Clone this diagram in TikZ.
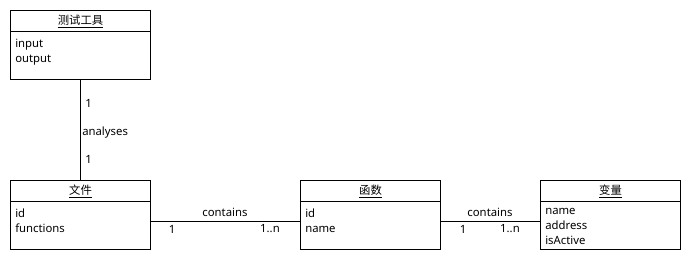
\documentclass[tikz,border=0pt]{standalone}
\usepackage{fontspec}
\setmainfont{Noto Sans}
\newfontfamily\cjk{Noto Sans CJK SC}
\usetikzlibrary{calc}
\begin{document}
\begin{tikzpicture}[x=0.75pt,y=-0.75pt,
  box/.style={draw,line width=0.75pt,minimum width=105pt,minimum height=51.75pt,inner sep=0pt,anchor=north west},
  sep/.style={line width=0.75pt},
  title/.style={font=\cjk\fontsize{8.5}{10}\selectfont,inner sep=0pt},
  attrs/.style={font=\fontsize{8.5}{11.25}\selectfont,align=left,anchor=north west,inner sep=0pt},
  lbl/.style={font=\fontsize{8.5}{10}\selectfont,inner sep=0pt},
  link/.style={line width=0.75pt}]
\useasboundingbox (0,0) rectangle (690,260);

% class boxes
\node[box] (tool) at (10,10) {};
\node[box] (file) at (10,180) {};
\node[box] (func) at (300,180) {};
\node[box] (var)  at (540,180) {};

% header separators
\foreach \c in {tool,file,func,var}
  \draw[sep] ($(\c.north west)+(0,22)$) -- ($(\c.north east)+(0,22)$);

% titles
\node[title] (tool-t) at ($(tool.north)+(0,11.5)$) {\underline{测试工具}};
\node[title] (file-t) at ($(file.north)+(0,11.5)$) {\underline{文件}};
\node[title] (func-t) at ($(func.north)+(0,11.5)$) {\underline{函数}};
\node[title] (var-t)  at ($(var.north)+(0,11.5)$)  {\underline{变量}};

% attributes
\node[attrs] (tool-a) at ($(tool.north west)+(5,28.5)$) {input\\output};
\node[attrs] (file-a) at ($(file.north west)+(5,28.5)$) {id\\functions};
\node[attrs] (func-a) at ($(func.north west)+(5,28.5)$) {id\\name};
\node[attrs] (var-a)  at ($(var.north west)+(5,28.5)$)  {name\\address\\isActive};

% associations
\draw[link] (tool.south) -- (file.north);
\coordinate (fileR) at ($(file.north east)+(0,41)$);
\coordinate (funcL) at ($(func.north west)+(0,41)$);
\coordinate (funcR) at ($(func.north east)+(0,41)$);
\coordinate (varL)  at ($(var.north west)+(0,41)$);
\draw[link] (fileR) -- (funcL);
\draw[link] (funcR) -- (varL);

% association labels
\node[lbl,anchor=west] (a1) at (85,103) {1};
\node[lbl,anchor=west] (a2) at (82,133) {analyses};
\node[lbl,anchor=west] (a3) at (85,159) {1};

\node[lbl] (c1) at (225,212) {contains};
\node[lbl] (c1a) at (172,229) {1};
\node[lbl] (c1b) at (270,229) {1..n};

\node[lbl] (c2) at (490,212) {contains};
\node[lbl] (c2a) at (463,229) {1};
\node[lbl] (c2b) at (510,229) {1..n};
\end{tikzpicture}
\end{document}
